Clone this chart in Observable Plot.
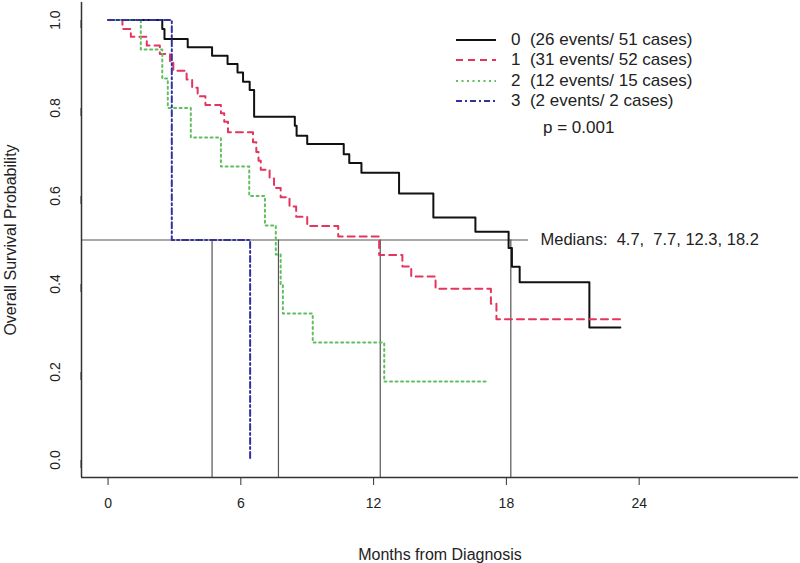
<!DOCTYPE html>
<html><head><meta charset="utf-8">
<script src="https://cdn.jsdelivr.net/npm/d3@7"></script>
<script src="https://cdn.jsdelivr.net/npm/@observablehq/plot@0.6"></script>
<style>
body{margin:0;background:#fff;}
#wrap{position:relative;width:800px;height:563px;font-family:"Liberation Sans",Arial,sans-serif;}
#wrap svg text{white-space:pre;}
#legend{position:absolute;left:455px;top:30px;font-size:17px;color:#222;}
.row{display:flex;align-items:center;height:20.3px;white-space:pre;}
.row svg{width:42px;height:20px;margin-right:14px;flex:none;}
#pval{position:absolute;left:543px;top:118px;font-size:17px;color:#222;white-space:pre;}
</style></head><body><div id="wrap"><div id="legend"></div><div id="pval"></div></div>
<script>
// ---- data ----
const groups = ["0", "1", "2", "3"];
const legendLabels = ["0  (26 events/ 51 cases)", "1  (31 events/ 52 cases)", "2  (12 events/ 15 cases)", "3  (2 events/ 2 cases)"];
const pText = "p = 0.001";
const medians = [4.7, 7.7, 12.3, 18.2];
const medianText = "Medians:  4.7,  7.7, 12.3, 18.2";
const xTicks = [0, 6, 12, 18, 24];
const yTicks = [0, 0.2, 0.4, 0.6, 0.8, 1.0];

const time0 = [0, 2.45, 2.55, 3.6, 4.7, 5.4, 5.85, 6.1, 6.4, 6.6, 8.44, 8.52, 9.0, 10.65, 10.9, 11.45, 13.15, 14.7, 16.6, 18.1, 18.25, 18.6, 21.75, 23.15];
const surv0 = [1, 0.98, 0.957, 0.938, 0.919, 0.90, 0.881, 0.86, 0.841, 0.78, 0.76, 0.737, 0.718, 0.695, 0.675, 0.653, 0.606, 0.551, 0.519, 0.482, 0.439, 0.404, 0.301, 0.301];

const time1 = [0, 0.65, 1.03, 1.75, 2.34, 2.8, 2.95, 3.55, 3.8, 4.05, 4.4, 5.1, 5.25, 5.42, 6.55, 6.7, 6.8, 6.9, 7.3, 7.5, 7.8, 8.2, 8.5, 9.0, 10.4, 12.25, 13.3, 13.7, 14.8, 17.3, 17.55, 23.3];
const surv1 = [1, 0.98, 0.962, 0.942, 0.923, 0.904, 0.885, 0.865, 0.846, 0.827, 0.807, 0.788, 0.769, 0.745, 0.722, 0.70, 0.68, 0.66, 0.64, 0.618, 0.597, 0.576, 0.553, 0.532, 0.508, 0.466, 0.44, 0.417, 0.389, 0.355, 0.32, 0.32];

const time2 = [0, 1.48, 2.45, 2.7, 3.74, 5.1, 6.38, 7.09, 7.58, 7.8, 7.9, 9.25, 12.48, 17.08];
const surv2 = [1, 0.933, 0.867, 0.8, 0.733, 0.667, 0.6, 0.533, 0.467, 0.4, 0.333, 0.267, 0.178, 0.178];

const time3 = [0, 2.88, 6.42];
const surv3 = [1, 0.5, 0];

// ---- styles ----
const colors = ["#111111", "#e4355e", "#5fbf5f", "#3232a0"];
const dashes = [null, "7,5", "2,3.5", "6,3,2,3"];
const xDomain = [-1.2, 31.2];
const yDomain = [-0.04, 1.04];
const medianLineEnd = 19;
const font = "Liberation Sans, Arial, sans-serif";

const series = [[time0, surv0], [time1, surv1], [time2, surv2], [time3, surv3]];
const rows = [];
series.forEach(([t, s], i) => t.forEach((ti, j) => rows.push({group: groups[i], time: ti, surv: s[j]})));

const curveMarks = groups.map((g, i) => Plot.line(rows.filter(d => d.group === g), {
  x: "time", y: "surv", curve: "step-after",
  stroke: colors[i], strokeWidth: 2, strokeDasharray: dashes[i] || undefined
}));

const yFmt = d => d.toFixed(1);
const chart = Plot.plot({
  width: 800, height: 563,
  marginLeft: 81, marginRight: 2, marginTop: 2, marginBottom: 86,
  style: {fontFamily: font, fontSize: "14px", background: "#fff", color: "#333"},
  x: {domain: xDomain},
  y: {domain: yDomain},
  marks: [
    Plot.ruleY([0.5], {x1: xDomain[0], x2: medianLineEnd, stroke: "#555", strokeWidth: 1.2}),
    Plot.ruleX(medians, {y1: yDomain[0], y2: 0.5, stroke: "#555", strokeWidth: 1.2}),
    ...curveMarks,
    Plot.text([medianText], {x: medianLineEnd, y: 0.5, dx: 12, text: d => d, textAnchor: "start", fontSize: 16.5, fill: "#222"}),
    Plot.ruleX([xDomain[0]], {stroke: "#333", strokeWidth: 1.5}),
    Plot.ruleY([yDomain[0]], {stroke: "#333", strokeWidth: 1.5}),
    Plot.axisX(xTicks, {tickSize: 8, tickPadding: 13, stroke: "#333", fill: "#222",
      label: "Months from Diagnosis", labelAnchor: "center", labelArrow: "none", labelOffset: 82}),
    Plot.axisY(yTicks, {tickSize: 8, tickPadding: 18, stroke: "#333", fill: "#222",
      rotate: -90, textAnchor: "middle", tickFormat: yFmt,
      label: "Overall Survival Probability", labelAnchor: "center", labelArrow: "none", labelOffset: 77})
  ]
});
const tickTexts = new Set([...xTicks.map(String), ...yTicks.map(yFmt)]);
chart.querySelectorAll("text").forEach(t => {
  const s = t.textContent.trim();
  if (tickTexts.has(s)) {
    t.setAttribute("font-size", "14px");
  } else if (s === "Months from Diagnosis" || s === "Overall Survival Probability") {
    t.setAttribute("font-size", "16px");
  }
});
document.getElementById("wrap").prepend(chart);

// legend (HTML overlay)
const leg = document.getElementById("legend");
legendLabels.forEach((lab, i) => {
  const row = document.createElement("div");
  row.className = "row";
  row.innerHTML = `<svg><line x1="1" x2="41" y1="10" y2="10" stroke="${colors[i]}" stroke-width="2" ${dashes[i] ? `stroke-dasharray="${dashes[i]}"` : ""}/></svg><span>${lab}</span>`;
  leg.appendChild(row);
});
document.getElementById("pval").textContent = pText;
</script></body></html>
